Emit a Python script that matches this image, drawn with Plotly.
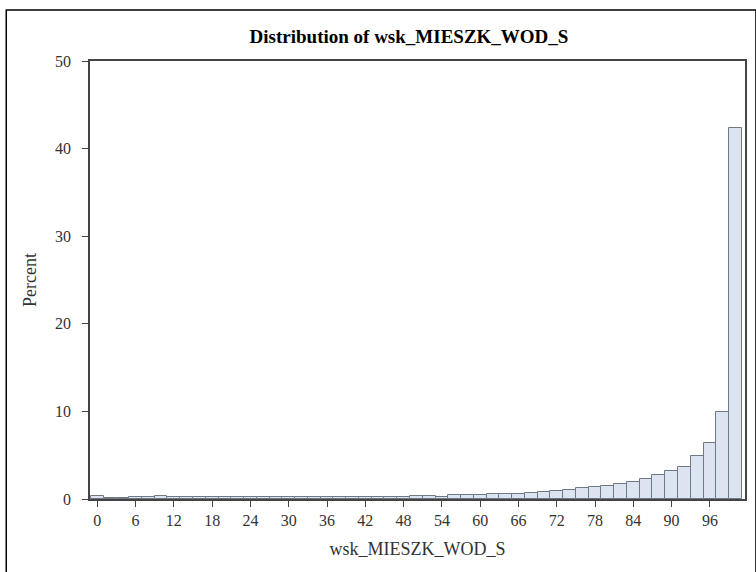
import plotly.graph_objects as go

midpoints = list(range(0, 101, 2))
percent = [0.30, 0.08, 0.15, 0.20, 0.20, 0.30, 0.20, 0.20, 0.20, 0.20,
           0.20, 0.20, 0.20, 0.20, 0.20, 0.20, 0.20, 0.20, 0.20, 0.20,
           0.20, 0.25, 0.25, 0.25, 0.25, 0.30, 0.30, 0.22, 0.45, 0.42,
           0.48, 0.52, 0.55, 0.60, 0.72, 0.80, 0.92, 1.07, 1.26, 1.37,
           1.45, 1.71, 1.98, 2.25, 2.70, 3.15, 3.60, 4.95, 6.36, 9.90,
           42.30]
x_ticks = list(range(0, 97, 6))
y_ticks = [0, 10, 20, 30, 40, 50]

font_family = "Liberation Serif, Times New Roman, serif"

fig = go.Figure()
fig.add_trace(go.Bar(
    x=midpoints, y=percent, width=2,
    marker=dict(color="#dbe4f0", line=dict(color="#6f7984", width=1)),
    hoverinfo="x+y",
))

W, H = 756, 572
L, R, T, B = 90, 9, 61, 73
pw, ph = W - L - R, H - T - B

fig.update_layout(
    width=W, height=H,
    margin=dict(l=L, r=R, t=T, b=B),
    paper_bgcolor="white", plot_bgcolor="white",
    showlegend=False,
    bargap=0,
    font=dict(family=font_family, size=16, color="#333333"),
    title=dict(text="<b>Distribution of wsk_MIESZK_WOD_S</b>",
               x=409 / W, xanchor="center", y=1 - 36 / H, yanchor="middle",
               font=dict(family=font_family, size=19, color="#000000")),
    xaxis=dict(range=[-1.14, 101.5], tickmode="array", tickvals=x_ticks,
               ticks="outside", ticklen=6, tickcolor="#444444",
               showgrid=False, zeroline=False, showline=True, linecolor="#444444",
               linewidth=1.5, mirror=True,
               tickfont=dict(family=font_family, size=16, color="#333333"),
               title=dict(text="wsk_MIESZK_WOD_S", standoff=14,
                          font=dict(family=font_family, size=18, color="#333333"))),
    yaxis=dict(range=[0, 50], tickmode="array", tickvals=y_ticks,
               ticks="outside", ticklen=6, tickcolor="#444444",
               ticklabelstandoff=8,
               showgrid=False, zeroline=False, showline=True, linecolor="#444444",
               linewidth=1.5, mirror=True,
               tickfont=dict(family=font_family, size=16, color="#333333"),
               title=dict(text="Percent", standoff=14,
                          font=dict(family=font_family, size=18, color="#333333"))),
    shapes=[dict(type="rect", xref="paper", yref="paper",
                 x0=(6 - L) / pw, x1=(W + 2 - L) / pw,
                 y0=-(H + 2 - T - ph) / ph, y1=(H - B - 10) / ph,
                 line=dict(color="#000000", width=1.5), fillcolor="rgba(0,0,0,0)")],
)

fig.write_html("out.html", config={"displayModeBar": False},
               post_script="document.body.style.margin='0';document.body.style.overflow='hidden';")
